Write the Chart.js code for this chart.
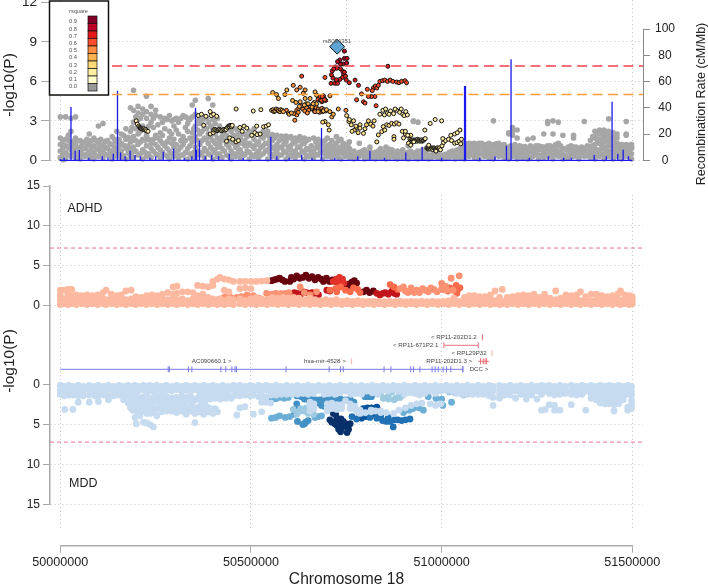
<!DOCTYPE html>
<html><head><meta charset="utf-8">
<script src="https://cdn.jsdelivr.net/npm/chart.js@4"></script>
<style>html,body{margin:0;padding:0;background:#fff;width:708px;height:588px;overflow:hidden}
canvas{position:absolute;left:0;top:0}</style></head><body>
<script>
/* all x values are kb past chromStart; columns are [kb, y, y, ...] */
const chromStart=50000000;
const xTicksBottom=[50000000,50500000,51000000,51500000];
const xTicksTop=[50000000,50750000,51500000];
const yTicksTop=[0,3,6,9,12];
const yTicksRecomb=[0,20,40,60,80,100];
const yTicksAssoc=[0,5,10,15];
const gwasLine=7.17, suggestiveLine=5.0, panelLine=7.2;
const legendLabels=['0.9','0.8','0.7','0.6','0.5','0.4','0.3','0.2','0.1','0.0'];
const legendColors=['#800026','#bd0026','#e31a1c','#fc4e2a','#fd8d3c','#feb24c','#fed976','#ffeda0','#ffffcc','#999999'];
const leadSnp=[726,8.64];
const leadName='rs8034351';

const grayTop=[
[0,.2,.7,1.2,1.7,3.3],[14,.1,.6,1.1,1.6,3.3],[28,.3,.8,1.3,2.2,3.2],[40,.2,.7,1.2,1.7,3.3],[52,.1,.6,1.0,1.5],[64,.3,.9,1.4],[76,.2,.7,1.3,2],
[88,.1,.6,1.1,1.7],[100,.3,.8,1.3,2.6],[112,.2,.7,1.2,2.8],[124,.4,.9,1.5],[136,.1,.6,1.2,1.8],[148,.3,.8,1.4,2.2],[160,.2,.7,1.3,2.0],[172,.1,.9,1.6,2.4],
[184,.3,.8,1.4,2.2,4.0],[192,.2,1,1.8,2.9,3.8,5.33],[204,.4,1.2,2,3.1,3.6,4.1],[216,.1,.8,1.6,2.6,3.5,3.9],[226,.3,1.1,1.9,3.2,3.7,4.87],[238,.2,.9,1.3,2.9,3.5,4.1],[250,.5,1.2,1.9,3.4,3.8],
[262,.2,.8,1.5,2.1,3.3],[274,.4,1.1,2.4,3.2],[286,.1,.7,1.7,2.2,3.4],[298,.3,1,1.6,2.6,3.1],[310,.2,.8,2.0,2.9],[322,.4,1.2,1.8,3.4],[334,.1,.9,2.2,2.8,3.2],[346,.3,1.4,2.1,3.3,4.2],[354,.2,1,1.8,2.6,3.5,4.57],
[366,.4,1.2,2.0,2.8,3.2],[378,.2,.9,1.7,2.5,3.3],[388,.5,1.3,2,2.9,4.7],[400,.1,.8,1.5,2.4,3.1,4.2],[412,.3,1,1.7,2.3,3.2],[424,.2,.9,1.8,2.2],[436,.4,1.2,1.9,2.4],[448,.1,.7,1.4,2.2],[460,.3,1,1.6,2.4],
[472,.2,.8,1.7,2.3],[484,.4,1.1,1.5,2],[496,.1,.6,1.3,2.2],[508,.3,.9,1.6,2.4],[520,.2,.7,1.4,2.0],[532,.5,1.1,1.7,2.2],[544,.1,.8,1.3,1.9,2.2],[556,.3,.9,1.5,1.95],[568,.2,.7,1.2,1.9],[580,.4,1,1.85],
[592,.1,.6,1.4,1.85],[604,.3,.8,1.1,1.8],[616,.2,.7,1.4,1.7],[628,.4,1,1.8],[640,.1,.6,1.3,1.7],[652,.3,.8,1.6],[664,.2,.7,1.7],[676,.4,1,1.2,1.6],[688,.1,.6,1.4,1.3],[700,.3,.8,1.1,1.7],[712,.2,.5,.9,1.5],
[724,.4,.7,1.3,1.8],[736,.1,.6,1.0,1.6],[748,.3,.8,1.2],[758,.2,.5,.9,1.4],[770,.1,.4,.7],[784,.3,.6,1.3],[798,.1,.5,.8],[812,.4,.7,1.0],[826,.1,.3,.6],[840,.2,.5,.9],[854,.1,.4,.7,1.0],[870,.3,.6,.8],[884,.1,.4,.7],[898,.2,.5,.8],
[912,.1,.4,.6,1.1],[926,.3,.5,3.0,2.95],[938,.1,.4,.7,2.9],[950,.2,.5,.8],[966,.1,.4],[980,.3,.5],[1000,.1,.4],[1020,.2,.6,.3],[1035,.1,.3,.7],[1048,.2,.6,.9],[1060,.1,.5,1,1.3],
[1072,.3,.7,1.1,1.3],[1086,.2,.6,1,1.3],[1098,.1,.5,.9,1.3],[1112,.3,.7,1.1,1.2],[1124,.2,.6,1.0,1.3],[1136,.1,.5,.9,1.2,3],[1150,.3,.7,1.1,1.3],[1164,.2,.6,.9,1.2],[1176,.1,.5,.8,2.0,2.1],[1186,.3,.7,1,2.5,1.9,2.2],[1198,.1,.4,.8,2.3,1.7],
[1212,.2,.6,.9,1.0],[1226,.1,.5,.8,1.6],[1240,.3,.6,.9,1.7],[1254,.1,.4,.8,1.1],[1268,.2,.6,1,2],[1278,.3,.7,1.1,2.95,2.8],[1292,.1,.5,.9,3,2],[1306,.3,.6,1.1,1.3,2.9],[1318,.1,.5,.9,1.9],[1332,.2,.7,1.0],[1346,.3,.6,1.0,1.7,1.9],
[1360,.1,.5,.8],[1374,.3,.7,.9,2.95],[1390,.2,.5,.8,1.0,1.5],[1402,.1,.6,.9,2.2,1.7,1.2],[1414,.3,.7,2.3,2,1.6,1.3],[1426,.1,.5,.9,2.3,1.8,1.4],[1438,.3,.6,2.2,1.9,1.5,1.2,3.15],[1450,.1,.5,.9,2.1,1.8,1.5],[1460,.3,.7,1,2,1.7,1.3],[1472,.1,.5,.9,1.2],[1484,.3,.6,1.0,1.2,2.0,1.9,2.95],[1498,.1,.5,.9,1.2,1.0]
];
const grayFill=[
[7,.45,.95,1.45,.05],[21,.4,1,1.5,1.9],[34,.5,1,1.45],[46,.4,.95,1.5],[58,.45,.85,1.3],[70,.5,1.1,1.6],[82,.4,1,1.5],[94,.35,.9,1.5],[106,.55,1.05,1.6],[118,.45,1,1.45],[130,.35,.75,1.25],[142,.5,1,1.6],[154,.45,1.05,1.6],[166,.35,1.15,1.9],[178,.55,1.1,1.75],[188,.6,1.5,2.5],[198,.7,1.5,2.4,3.3],[210,.5,1.4,2.2,3.2],[222,.6,1.5,2.3],[232,.5,1.6,2.6],[244,.7,1.6,2.5,3.2],
[256,.4,1.0,1.7,2.7],[268,.6,1.3,1.9,2.9],[280,.3,.9,1.4,3.1],[292,.5,1.3,2.0,3],[304,.6,1.2,2.3,3.2],[316,.4,1,1.5,3.2],[328,.6,1.5,2.5,3.3],[340,.5,1.1,1.7,3.1],[350,.6,1.7,2.4],[360,.7,1.5,2.3,3],[372,.6,1.5,2.2,3],[384,.7,1.6,2.4,3.2],[394,.4,1,1.8,2.6],[406,.6,1.3,2,2.8],[418,.5,1.2,1.5,2.6],[430,.7,1.5,2.1],[442,.3,1,1.7,2.5],[454,.5,1.3,1.9],[466,.6,1.2,1.9,2.2],
[478,.5,1.3,2],[490,.7,1.1,1.8],[502,.4,1.1,1.9],[514,.5,1.2,2],[526,.4,1,1.8],[538,.7,1.3,2],[550,.5,1.1,1.6],[562,.5,1,1.7],[574,.4,.95,1.5],[586,.7,1.2,1.6],[598,.4,1,1.7],[610,.55,1.3,1.6],[622,.45,1,1.5],[634,.7,1.25,1.6],[646,.35,.9,1.5],[658,.55,1.1],[670,.45,.95,1.4],[682,.7,1.15],[694,.5,.9,1.5],[706,.55,1.2],[718,.5,.8,1.1],[730,.2,.9,1.5],[742,.5,1,1.3],[754,.55,1.1],[764,.3,.6],[778,.2,.5],[792,.4,.7],[806,.2,.6],[820,.2,.5],[834,.35,.7],[848,.3,.6],[862,.2,.5,.85],[877,.2,.5],[891,.3,.6],[906,.25,.55],[919,.25,.7],[932,.15,.6],[944,.3,.55],[958,.25,.6],[973,.2,.4],[990,.2,.45],[1010,.15,.45],[1028,.4,.7],[1042,.35,.8],[1054,.3,.75],
[1066,.4,.8,1.2],[1079,.5,.9,1.25],[1092,.35,.75,1.2],[1105,.5,.9,1.3],[1118,.4,.8,1.2],[1130,.35,.75,1.1],[1143,.5,.9,1.25],[1157,.4,.8,1.1],[1170,.3,.65,1],[1181,.3,.75,1.1],[1192,.5,.9,1.2],[1205,.35,.7,1.1],[1219,.35,.7,1.05],[1233,.2,.7,1.1],[1247,.45,.7,1.1],[1261,.35,.8,1.05],[1273,.45,.9],[1285,.35,.7,1.1],[1299,.45,.8,1.2],[1312,.4,.7,1.1],[1325,.35,.85],[1339,.45,.8,1.1],[1353,.35,.7,1],[1367,.4,.75,1],[1382,.35,.65,1.1],[1396,.4,.8,1.1,1.8],[1408,.4,.8,1.5,2],[1420,.4,.9,1.1,1.6,2],[1432,.4,.8,1,1.6,2.1],[1444,.35,.7,1.1,1.7,2],[1455,.4,.75,1.2,1.8],[1466,.45,.85,1.2],[1478,.35,.75,1.1],[1491,.35,.8,1.15]
];

const ldR1=[[199,3],[202,2.75],[206,2.6],[208,2.5],[210,2.45],[212,2.4],[214,2.4],[216,2.35],[218,2.35],[220,2.4],[222,2.3],[224,2.35],[226,2.25],[230,2.2],[362,3.4],[370,3.5],[376,2.66],[382,3.35],[393,3.7],[396,3.4],[402,3.5],[410,3.35],[393,2.0],[401,2.1],
[402,2.3],[405,2.35],[408,2.3],[411,2.25],[414,2.3],[417,2.35],[420,2.3],[423,2.25],[426,2.3],[429,2.35],[432,2.3],[435,2.35],[438,2.5],[441,2.6],[443,2.55],[445,2.65],[447,2.6],[449,2.55],[451,2.65],
[436,1.45],[444,1.7],[452,1.6],[461,1.4],[467,1.5],[461,3.9],[471,2.5],[477,2.2],[482,2.6],[489,2.45],[506,3.75],[526,3.85],[502,1.9],[510,2.1],[516,1.95],[524,2.0],[515,2.6],[533,2.55],[540,2.6],[546,2.7],
[850,3.45],[858,3.6],[866,3.75],[874,3.55],[882,3.8],[890,3.65],[898,3.5],[906,3.7],[838,3.5],[846,3.8],[853,3.9],[862,3.5],[878,3.9],[894,3.9],[902,3.4],[910,3.45],
[917,1.6],[919,1.5],[921,1.5],[923,1.45],[925,1.55],[927,1.5],[929,1.45],[931,1.55],[933,1.5],[935,1.45],[937,1.6],[939,1.5],[941,1.55],[943,1.45],[945,1.5],[947,1.55],[949,1.45],[951,1.5],[953,1.55],[955,1.6],[957,1.65],[911,1.9],[905,2.2],[900,1.7],[913,1.3],[919,1.15],[927,1.4],[956,2.3],[970,2.8],[983,3.1],[1000,3.0],
[961,.95],[963,.9],[965,.85],[967,.95],[969,.9],[971,.85],[973,.95],[975,.9],[977,.8],[979,.95],[981,.9],[983,.85],[985,.85],[987,.9],[989,.95],[991,.85],[993,.9],[995,.95],[997,.8],[1001,1.1],[1005,1.35],[1010,1.5],[1003,1.65],[985,.7],[966,1.15],[1018,1.6],[1026,1.5],[1034,1.3],[1040,1.35],[1046,1.45],[1050,1.25],[1052,1.6],[1024,1.9],[1034,2.0],[1041,2.1],[1048,2.3]];
const ldR2=[[830,1.4],[834,1.93],[843,2.18],[847,2.56],[851,2.3],[856,2.7],[862,2.65],[869,2.8],[876,2.75],[882,2.85],[888,2.75],[875,1.8],[875,1.6],[897,2.2],[905,2],[913,1.85],[919,1.9],[786,2.7],[786,2.45],[795,2.05],[799,2.4],[751,3.4],[757,2.95],[763,2.7],[769,3.0],[775,2.6],[765,2.2],[758,3.1]];
const ldR3=[[694,2.95],[703,2.7],[705,2.3],[688,2.9],[803,2.7],[808,3.0],[814,2.75],[820,2.6],[823,3.0],[771,2.3],[777,2.5],[781,2.1]];
const ldR4=[[609,4.55],[629,4.45],[642,4.7],[655,4.7],[666,4.4],[645,4.3],[660,4.05],[672,4.3],[554,3.8],[558,3.85],[560,3.7],[563,3.75],[566,3.9],[570,3.85],[572,3.75],[576,3.7],[578,3.85],[582,3.8],[585,3.7],[600,3.5],[606,3.6],[707,3.7],[712,3.3],[716,3.5],[729,3.9],[676,3.7],[690,3.75],[698,3.85],[668,5.2],[672,4.95],[589,5],[594,5.35],[557,5.15],[567,5],[572,4.7],[618,4.4],[627,4.1],[640,4.2],[650,4.3],[663,4.3]];
const ldR5=[[615,3.05],[620,3.45],[611,5.7],[629,5.55],[642,5.35],[637,5.1],[620,5.35],[620,3.8],[625,3.95],[630,4.05],[636,3.9],[641,3.75],[646,4],[651,3.8],[656,4.1],[661,3.9],[666,3.75],[671,4],[676,3.9],[681,3.8],[686,3.95],[691,3.85],[696,3.75],[612,3.55],[624,3.65],[634,4.15],[648,3.6],[749,3.8],[707,4.9],[593,3.8],[598,3.6],[668,3.7],[680,3.65],[688,3.7]];
const ldR6=[[633,6.4],[694,6.3],[821,5.5],[826,5.65],[830,5.5],[834,5.7],[805,5.4],[790,5.05],[825,4.85],[816,4.85],[808,4.85],[777,4.6],[795,4.45],[799,4.35],[828,4.15],[818,5.3],[838,6.0],[845,6.05],[851,6.1],[858,6],[865,6.1],[872,6],[882,5.95],[888,5.9],[895,6],[904,6.05],[908,5.9],[680,4.6],[684,4.8],[688,4.55],[692,4.7],[686,4.45],[678,4.85],[690,4.9],[682,4.7],[686,4.65],[696,4.55],[676,4.65],[683,4.6],[689,4.75],[685,4.55],[681,4.85],[687,4.85],[693,4.6]];
const ldR7=[[725,7],[735,6.95],[741,6.75],[743,6.55],[740,6.3],[733,6.15],[724,6.12],[715,6.25],[711,6.5],[713,6.8],[717,6.95],[745,6.7],[748,6.4],[750,6.1],[758,5.9],[773,6.1],[782,5.7],[710,5.85],[720,5.85],[727,5.85],[859,7.15]];
const ldR8=[[745,8.3],[745,7.75],[752,7.75],[733,7.63],[742,7.33],[727,7.5],[722,7.1],[735,7.3],[751,7.4]];

const recombKb=[0,10,28,39,50,75,110,125,139,150,158,170,183,196,210,235,250,270,297,325,345,354,355,357,365,380,397,415,443,480,552,568,600,633,660,685,720,780,812,850,906,949,1000,1059,1060,1061,1062,1063,1100,1140,1170,1182,1230,1280,1320,1340,1400,1432,1447,1462,1476,1490];
const recombRate=[1,2,40.6,7.3,7.8,2,3,2,5,53,6,3,7.3,4,3,2,3,6.5,9,2,3,12,40,8,15,3,4,3,5,2,18,3,2,4,2,24.6,2,3,7,2,6,10.3,2,56.5,56.5,56.5,56.5,56.5,2,3,11,77,2,3,2,2,4,3,44.6,5,8,3];

const adhdPale=[
[0,.1,.7,1.2,1.9],[10,.2,.8,1.9],[20,.1,.7,1.3,2],[30,.2,.8,1.2,2],[42,.1,.7,1.3],[56,.2,.8,1.2],[70,.1,.6,1.3],[84,.2,.8,1.2],[98,.1,.7,1.3],[112,.2,.8,1.6],[120,.1,.7,1.9],[134,.2,.8,1.4],[148,.1,.6,1.2],[160,.2,.8,1.3],[172,.1,.7,1.8],[186,.2,.8,1.9],
[198,.1,.7,1.1],[212,.2,.8,1],[226,.1,.6,1.2],[240,.2,.8,1.3],[254,.1,.7,1.2],[268,.2,.8,1.4],[282,.1,.7,1.6],[296,.2,.8,1.4,2.3],[306,.1,.7,1.5,2.4],[320,.2,.8,1.7],[334,.1,.6,1.7],[348,.2,.8,1.6],[360,.1,.7,1.2,2.5],[374,.2,.8,1.4,2.4],[388,.1,.6,1,2.3],[400,.2,.8,3.0,2.5],
[412,.1,.7,3.3],[419,.2,.8,3.5],[430,.1,.6,3.3,1.9],[442,.2,.8,3.2,1.7],[454,.1,.7,3],[471,.2,.8,3,2.1],[485,.1,.6,3,2.2],[500,.2,.8,3,2.1],[514,.1,.7,3,1.0],[528,.2,.8,3.05],[542,.1,.7,3.1],[556,.2,.8,1],[570,.1,.6,.9],[584,.2,.8,1],[598,.1,.6,.9],[612,.2,.7,1.0],
[626,.1,.6,.9],[640,.2,.7],[654,.1,.6,.9],[668,.2,.7],[682,.1,.6],[696,.2,.7],[710,.1,.6],[724,.2,.7],[738,.1,.5],[752,.2,.6],[766,.1,.5],[780,.2,.6],[794,.1,.5],[808,.2,.5],[822,.1,.5],[836,.2,.5],[850,.1,.45],[864,.2,.5],[878,.1,.45],[892,.2,.5],[906,.1,.45],[920,.2,.5],[934,.1,.45],[948,.2,.5],[962,.1,.45],[976,.2,.5],[990,.1,.45],[1004,.2,.5],[1018,.1,.55],[1032,.2,.5,.9],[1046,.1,.5],[1060,.2,.7,1],
[1072,.1,.6,1.2],[1086,.2,.7,1.2],[1100,.1,.6,1.1],[1114,.2,.7,1.1],[1128,.1,.7,1.3],[1140,.2,.6,1.8],[1152,.1,.7,1],[1159,.2,.5,2.0],[1172,.1,.6,1],[1186,.2,.7,1.1],[1200,.1,.6,1.2],[1214,.2,.7,1.3],[1228,.1,.6,1.2],[1242,.2,.7,1.4],[1256,.1,.6,1],[1270,.2,.7,1.4],[1284,.1,.6,.9],[1299,.2,.7,1.8],[1312,.1,.6,.9],[1326,.2,.7,1.3],[1340,.1,.6,1.2],[1354,.2,.7,1.3],[1364,.1,.6,1.7],[1378,.2,.7,1.1],[1392,.1,.6,1.4],[1406,.2,.7,1.4],[1420,.1,.6,1.2],[1434,.2,.7,1.1],[1448,.1,.6,1.2],[1462,.2,.7,1.4],[1469,.1,.6,1.8],[1480,.2,.7,1.3],[1492,.1,.6,1.2],[1500,.2,.7,1.1]
];
const adhdSalmon=[[395,.4],[427,.9],[433,1.1],[440,.8],[447,1],[454,.7],[463,1],[475,1.1],[490,1.3],[506,1.2],[520,.9],[541,1.5],[554,1.4],[565,1.5],[578,1.45],[590,1.5],[600,1.6],[629,2.3],[640,1.6],[655,1.3],[672,1.7],[891,2.1],[905,1.8],[920,2.2],[935,1.9],[950,2.1],[965,1.7],[980,2.0],[900,2.3],[912,1.6],[928,1.6],[942,1.6],[958,1.9],[972,2.2],[988,1.7],[1000,2.1],[1000,2.75],[1014,1.9],[1025,3.4],[1046,3.7],[1030,1.9],[1010,2.4]];
const adhdOrange=[[707,1.9],[722,2.1],[735,2.3],[748,1.9],[760,1.7],[769,2.2],[780,2.0],[786,1.6],[725,1.7],[865,2.6],[875,2.3],[885,2],[1002,2.0],[1016,1.8],[1032,1.9],[1042,2.0],[1048,2.2],[1038,2.5],[1040,1.5],[1022,2.2]];
const adhdRedOrange=[[716,3.0],[724,3.3],[732,3.5],[740,3.3],[744,2.8],[728,2.9]];
const adhdRed=[[607,1.3],[614,1.6],[622,1.5],[630,1.3],[638,1.7],[646,1.6],[654,1.4],[660,1.6],[668,1.2],[677,1.3],[699,1.9],[707,1.8],[830,1.5],[838,1.3],[846,1.5],[852,1.6],[860,1.4],[868,1.7],[876,1.5],[882,1.4],[872,1.9]];
const adhdMaroon=[[554,3.1],[561,3.2],[568,3.3],[575,3.4],[582,3.2],[589,3],[602,3.0],[606,3.5],[612,3.3],[620,3.7],[628,3.4],[636,3.5],[644,3.8],[652,3.4],[660,3.6],[668,3.2],[676,3.5],[684,3.3],[690,3],[698,3.4],[706,3],[714,3.2],[722,3.0],[751,2.4],[758,2.7],[765,2.9],[771,3.1],[777,2.8],[760,2.5],[795,1.7],[803,1.9],[811,1.6],[821,1.8]];

const geneLabels=['AC090660.1 >','hsa-mir-4528 >','< RP11-202D1.2','< RP11-671P2.1','< RPL29P32','RP11-202D1.3 >','DCC >'];
const geneLabelKb=[397,694,1032,932,1072,1020,1098];
const geneLabelRow=[1,1,4,3,2,1,0];
const dccLine=[0,1056];
const dccExons=[283,286,336,345,421,434,450,458,462,592,705,735,742,849,867,919,926,943,975,983,991,1004,1013,1024,1055,1056];
const rp671Line=[1006,1096];
const rp2013Line=[1096,1124];
const rp2013Exons=[1102,1109,1114,1118];
const strongTicks=[[1107,4],[1006,3],[1096,3]];
const lightTicks=[[764,1],[1132,2]];

const mddPale=[
[0,.1,.7,1.2],[10,.2,.8,1.4],[12,3.1],[22,.1,.6,1.3],[33,.2,.8,1.3,3.1],[47,.1,.7,1.4,2.2],[60,.2,.8,1.4],[76,.1,.6,1.3,2.2],[90,.2,.8,1.4],[100,.1,.7,1.4,2.1],[114,.2,.8,1.3],[126,.1,.6,1.4,1.9],[140,.2,.8,1.4],[154,.1,.7,1.3],[166,.2,.8,1.4,1.9],[178,.1,.6,1.4,2.3],[190,.2,.8,1.4,2.6,3.2],[196,.1,.7,1.5,4.1],[199,4.9],[204,.2,.8,1.6,2.7,3.5],[209,3.9],[218,.1,.6,1.5,2.2,3,4.7],[227,.2,.8,1.4,3.6,4.8],[235,.1,.7,1.8,2.4,3.6,5.0],[244,.2,.8,1.6,3.1,5.3],[253,.1,.6,1.4,3.9],[266,.2,.8,1.5,2.4,3.4],[278,.1,.7,1.5,3.3],[292,.2,.8,1.7,3.3,2.8],[305,.1,.6,1.6,2.5,3.5],[318,.2,.8,1.5,2.2,3.3],[330,.1,.7,1.6,3.5,3.7],[342,.2,.8,1.5,2.6,3.3],[353,.1,.6,1.8,4.75,3.6],[364,.2,.8,1.5,2.8,3.4],[376,.1,.7,1.4,3.2,3.7],[388,.2,.8,1.5,3.4,2.9],[400,.1,.6,1.4,3.6],[412,.2,.8,1.4,3.4],[426,.1,.7,1.3],[440,.2,.8,1.4],[454,.1,.6,1.4],[463,.2,.8,1.3,3.8],[471,.1,.7,1.4,2.9],[484,.2,.8,1.3,2.75],[498,.1,.6,1.4],[506,.2,.8,1.3,3.7],[520,.1,.7,1.5],[528,.2,.8,1.5,3.4,2.2],[540,.1,.6,1.5,2.2],[552,.2,.8,1.3,2.3],[566,.1,.7,1.3],[580,.2,.8,1.2],[594,.1,.6,1.2],[608,.2,.8,1.2],[622,.1,.7,1.2],[636,.2,.8,1.1],[650,.1,.6,1.2],[664,.2,.8,1.1],[678,.1,.7],[692,.2,.8,1.2],[706,.1,.6,1.1],[720,.2,.8,1.2],[734,.1,.7,1.0],[748,.2,.8,2.0],[762,.1,.6,1.2],[772,2.7,3.0],[776,.2,.8,1.1,3.3],[786,3.6,3.2],[790,.1,.7,1.2],[800,3.5],[804,.2,.8],[818,.1,.6,1],[832,.2,.8,1.2],[846,.1,.7],[860,.2,.8],[874,.1,.6,3.6],[888,.2,.8,3.2],[902,.1,.7,1.2],[916,.2,.8,1],[930,.1,.6,1.1],[942,.2,.8,1.3],[956,.1,.7,1.1],[970,.2,.8,2.4],[984,.1,.6,1.1,2.6],[998,.2,.8,2.4],[1012,.1,.7],[1026,.2,.8],[1040,.1,.6,1.1],[1054,.2,.8,1.2],[1068,.1,.7,1.2],[1082,.2,.8,1.2],[1096,.1,.6,1.2],[1110,.2,.8,1.2],[1124,.1,.7,1.4],[1135,.2,.8,1.6,2.6],[1152,.1,.6,1.2,1.7],[1166,.2,.8,1.3],[1180,.1,.7,1.3],[1194,.2,.8,1.7],[1208,.1,.6,1.2],[1222,.2,.8,1.2,1.8],[1236,.1,.7,1.3],[1250,.2,.8,1.8],[1262,.1,.6,1.2,3.2],[1272,.2,.8,3.1],[1282,.1,.7,1.1,2.5],[1296,.2,.8,1.3,3.2,2.6],[1310,.1,.6,1.2,3.2],[1324,.2,.8,1.1],[1340,.1,.7,1.2,2.5],[1354,.2,.8,1.3],[1368,.1,.6,1.2],[1378,.2,.8,3.2],[1392,.1,.7,1.2,1.7],[1406,.2,.8,1.4,1.9],[1416,.1,.6,1.2,1.9,2.3],[1428,.2,.8,1.4,2.0,2.4],[1440,.1,.7,1.3,1.8,2.4],[1452,.2,.8,1.5,2.1,2.5,3.3],[1464,.1,.6,1.3,2,2.4],[1476,.2,.8,1.4,1.9],[1488,.1,.7,1.2,3.2,2.8],[1498,.2,.8,1.3,2.5,2.0,3.0]
];
const mddPaleFill=[[184,2,2.9],[198,2.2,3],[212,2,2.6,3.4],[222,1.9,2.7],[232,2.1,3],[240,1.9,2.7,3.5],[250,2.2,3.1],[260,1.9,2.9],[272,2.1,2.9],[284,1.9,2.5],[298,2.2,3.1],[312,1.9,2.8],[324,2.4,3],[336,2,3],[348,2.2,2.9],[358,1.8,3],[370,2.2,2.9],[382,1.9,2.7],[394,1.8,3],[406,1.7,3],[420,1.8],[434,1.7],[448,1.7],[655,2.2,2.7,3.3],[665,2.4,3],[700,2.4,2.9,3.3],[712,2.3,3],[725,2.5,3.1],[738,2.5,3],[760,2.4,3],[815,3.2,3.4],[826,3.3],[840,3.3,3.5],[855,3.5],[905,2.9],[920,2.6],[935,2.4],[948,2.3]];
const mddMid=[[611,3.1],[620,3.7],[630,3],[640,3.3],[650,3.6],[660,3],[664,3.7],[625,3.4],[645,2.9],[830,.6],[840,1],[850,.4],[860,1.4],[870,.9],[880,1.7],[890,1.1],[900,.5],[908,.9],[847,1.7],[860,1.8],[875,1.9],[891,1.6],[898,1.3],[1004,.4],[1015,.5],[1025,.4],[1035,1],[1045,.8],[1057,.5],[1057,1.3],[1020,.9],[885,.3],[1040,.5]];
const mddLight=[[554,1.7],[565,1.75],[575,1.6],[587,1.7],[598,1.6],[554,4.2],[565,4.1],[575,3.9],[590,4.1],[602,4],[668,4.1],[677,4],[685,3.9],[900,3.5],[915,3.2],[925,3.0],[940,2.9],[952,3.2],[965,1.5],[985,1.7],[1000,1.8],[1026,2.2],[1003,2.6]];
const mddMidBlue=[[620,1.4],[625,1.1],[632,1.5],[640,1.8],[650,1.9],[660,1.8],[670,1.9],[680,1.9],[690,1.8],[700,1.9],[710,1.8],[722,1.9],[735,1.8],[748,1.9],[760,1.8],[677,2.3],[685,2.6],[692,2.7],[699,2.3],[688,2.1],[620,2.4],[614,3.7],[622,4.6],[636,5],[644,4.7],[650,4.5],[799,1.5],[808,1.5],[816,1.5],[770,2.2]];
const mddBlue=[[622,2.9],[630,3.2],[640,4.9],[830,4.2],[845,4.5],[855,4.6],[865,4.6],[873,5.3],[885,4.4],[895,4.5],[905,4.4],[917,4.3],[860,4.1],[877,4.4],[840,4.0],[812,4.1],[798,3.6],[777,4.3],[765,4.0]];
const mddDeep=[[785,3.5],[795,3.0],[805,2.9],[816,2.9],[830,2.8],[802,4.0],[790,4.2],[818,3.7],[826,3.6],[832,3.1]];
const mddNavy=[[707,4.4],[716,3.6],[722,3.7],[725,4.2],[712,4.7],[730,4.7],[736,4.3],[742,4.6],[748,4.9],[725,5.1],[730,5.6],[735,5.9],[738,5.4],[752,5.1],[756,5.6],[752,6],[742,5.2],[720,4.9],[760,4.9]];

/* page layout of the overlaid panels */
const L=50,R=643,ppk=0.38133;
const xLo=chromStart+((L-60.3)/ppk)*1000, xHi=chromStart+((R-60.3)/ppk)*1000;
const bp=k=>chromStart+k*1000;
const fromCols=c=>c.flatMap(r=>r.slice(1).map(y=>({x:bp(r[0]),y})));
const fromPairs=p=>p.map(a=>({x:bp(a[0]),y:a[1]}));
const FONT='"Liberation Sans",Arial,sans-serif';
const GRID='#c4c4c4',AXIS='#a9a9a9',TXT='#222';

function hline(v,color,dash,w){return {type:'line',data:[{x:xLo,y:v},{x:xHi,y:v}],borderColor:color,borderDash:dash,borderWidth:w,pointRadius:0,clip:false,order:0}}
function dots(pts,fill,r,border){return {type:'scatter',data:pts,backgroundColor:fill,borderColor:border||fill,borderWidth:border?1:0,pointRadius:r,pointHoverRadius:r,clip:false}}
function xScale(ticks,opt){return Object.assign({type:'linear',min:xLo,max:xHi,afterFit:s=>{s.height=0},afterBuildTicks:s=>{s.ticks=ticks.map(v=>({value:v}))},
  ticks:{display:false},grid:{display:ticks.length>0,color:GRID,drawTicks:false},border:{display:false,dash:[1,3]}},opt||{})}
function hiddenY(min,max,opt){return Object.assign({type:'linear',min,max,display:false},opt||{})}
function leftY(min,max,ticks,o){o=o||{};return {type:'linear',position:'left',min,max,reverse:!!o.reverse,afterFit:s=>{s.width=L;s.paddingTop=0;s.paddingBottom=0},afterBuildTicks:s=>{s.ticks=ticks.map(v=>({value:v}))},
  ticks:{color:TXT,font:{family:FONT,size:o.size||12},padding:o.pad||3,callback:v=>String(v),autoSkip:false},
  grid:{color:c=>(o.skip&&o.skip.includes(c.tick&&c.tick.value))?'rgba(0,0,0,0)':GRID,tickColor:AXIS,tickLength:o.tick||7,tickBorderDash:[],lineWidth:1},
  border:{display:true,color:AXIS,width:1.5,dash:[1,3]}}}

function panel(top,bottom,scales,datasets,plugins,left,right){
  const cv=document.createElement('canvas');cv.width=708;cv.height=588;document.body.appendChild(cv);
  return new Chart(cv,{type:'scatter',data:{datasets},plugins:plugins||[],options:{responsive:false,animation:false,devicePixelRatio:1,
    events:[],layout:{autoPadding:false,padding:{left:left===undefined?L:left,right:708-(right===undefined?R:right),top,bottom:588-bottom}},
    plugins:{legend:{display:false},title:{display:false},tooltip:{enabled:false}},scales}});
}
function textPlugin(items){return {id:'t'+Math.random(),afterDatasetsDraw(ch){const c=ch.ctx;items.forEach(it=>{c.save();c.fillStyle=it.color||TXT;c.font=(it.size||12)+'px '+FONT;
  c.textAlign=it.align||'center';c.textBaseline='middle';c.translate(it.x,it.y);if(it.rot)c.rotate(it.rot);c.fillText(it.s,0,0);c.restore();});}}}

/* top panel: vertical grid */
panel(0,168,{x:xScale(xTicksTop),y:hiddenY(0,1)},[]);
/* top panel: grey SNPs and left axis */
panel(2.5,160.3,{x:xScale([]),y:leftY(0,12,yTicksTop,{size:13.5,tick:9,pad:4,skip:[12]})},[dots(fromCols(grayTop).concat(fromCols(grayFill)),'#a6a6a6',2.8)],[],0);
/* recombination rate and right axis */
panel(29,160.3,{x:xScale([]),y:{type:'linear',position:'right',min:0,max:100,afterFit:s=>{s.width=708-R;s.paddingTop=0;s.paddingBottom=0},afterBuildTicks:s=>{s.ticks=yTicksRecomb.map(v=>({value:v}))},
  ticks:{color:TXT,font:{family:FONT,size:12},padding:5,crossAlign:'center',callback:v=>String(v)},
  grid:{drawOnChartArea:false,tickColor:'#8a8a8a',tickLength:7},border:{display:true,color:'#8a8a8a',width:1}}},
  [{type:'line',data:recombKb.flatMap((k,i)=>[{x:bp(k-.01),y:0},{x:bp(k),y:recombRate[i]},{x:bp(k+.01),y:0}]).concat([{x:bp(1500),y:0}]),borderColor:'#1a1aee',borderWidth:1.3,pointRadius:0,clip:false,tension:0}],[],L,708);
/* top panel: coloured SNPs, thresholds, key */
const keyPlugin={id:'key',afterDatasetsDraw(ch){const c=ch.ctx;c.save();c.fillStyle='#fff';c.strokeStyle='#111';c.lineWidth=1.5;c.fillRect(49.5,1,59,94);c.strokeRect(49.5,1,59,94);
  c.font='5.6px '+FONT;c.fillStyle='#555';c.textAlign='center';c.textBaseline='middle';c.fillText('rsquare',78.5,11.5);
  const h=7.5;legendColors.forEach((col,i)=>{c.fillStyle=col;c.fillRect(88,16+i*h,9,h);c.strokeStyle='#111';c.lineWidth=.7;c.strokeRect(88,16+i*h,9,h);
  c.fillStyle='#555';c.font='5.8px '+FONT;c.fillText(legendLabels[i],73,21.8+i*7.2);});c.restore();}};
panel(2.5,160.3,{x:xScale([]),y:hiddenY(0,12)},[
  hline(gwasLine,'#f5424b',[10,5.5],1.6),hline(suggestiveLine,'#f9a03c',[10,5.5],1.6),
  dots(fromPairs(ldR1),'#ffeea8',2,'#111'),dots(fromPairs(ldR2),'#fee08b',2,'#111'),dots(fromPairs(ldR3),'#fed976',2,'#111'),dots(fromPairs(ldR4),'#feb24c',2,'#111'),dots(fromPairs(ldR5),'#fd8d3c',2,'#111'),dots(fromPairs(ldR6),'#fc4e2a',2,'#111'),dots(fromPairs(ldR7),'#e31a1c',2,'#111'),dots(fromPairs(ldR8),'#bd0026',2,'#111'),
  {type:'scatter',data:fromPairs([leadSnp]),pointStyle:'rectRot',pointRadius:7.5,backgroundColor:'#5fa5d3',borderColor:'#111',borderWidth:1,clip:false},
  {type:'scatter',data:fromPairs([leadSnp]),pointRadius:2.2,backgroundColor:'#111',borderWidth:0,clip:false}
],[keyPlugin,textPlugin([{s:leadName,x:337,y:41,size:6,color:'#555'}])]);

/* lower part: vertical grid */
panel(195,527.7,{x:xScale(xTicksBottom),y:hiddenY(0,1)},[]);
/* ADHD */
panel(186,305.3,{x:xScale([]),y:leftY(0,15,yTicksAssoc,{skip:[15]})},[
  dots(fromCols(adhdPale),'#fcb9a0',3.4),dots(fromPairs(adhdSalmon),'#fc9272',3.4),dots(fromPairs(adhdOrange),'#fb6a4a',3.4),dots(fromPairs(adhdRedOrange),'#e2322a',3.4),dots(fromPairs(adhdRed),'#c3141b',3.4),dots(fromPairs(adhdMaroon),'#67000d',3.4),
  hline(panelLine,'#e8709f',[4,3],1)],[textPlugin([{s:'ADHD',x:67.5,y:208.7,size:12.3,align:'left'}])],0);
/* gene track */
const geneRowTop=8, geneRowBottom=-1.925;
const rowPts=a=>a.map(k=>({x:bp(k),y:0}));
const geneText={id:'geneText',afterDatasetsDraw(ch){const c=ch.ctx,xs=ch.scales.x,ys=ch.scales.y;c.save();c.font='6.2px '+FONT;c.fillStyle='#444';c.textAlign='center';c.textBaseline='middle';
  geneLabels.forEach((s,i)=>c.fillText(s,xs.getPixelForValue(bp(geneLabelKb[i])),ys.getPixelForValue(geneLabelRow[i])));c.restore();}};
const tick=(pts,color,r)=>({type:'scatter',data:pts,pointStyle:'line',rotation:90,pointRadius:r,borderColor:color,borderWidth:1,clip:false});
const seg=(arr,row,color)=>({type:'line',data:arr.map(k=>({x:bp(k),y:row})),borderColor:color,borderWidth:1,pointRadius:0,clip:false});
panel(305.3,384.7,{x:xScale([]),y:{type:'linear',position:'left',min:geneRowBottom,max:geneRowTop,afterFit:s=>{s.width=L},afterBuildTicks:s=>{s.ticks=[]},ticks:{display:false},grid:{display:false},border:{display:true,color:AXIS,width:1.5}}},[
  seg(dccLine,0,'#7a7ae8'),tick(rowPts(dccExons),'#7a7ae8',3),
  seg(rp671Line,3,'#e8707a'),seg(rp2013Line,1,'#e8707a'),
  tick(rp2013Exons.map(k=>({x:bp(k),y:1})),'#e8707a',3),tick(fromPairs(strongTicks),'#e8707a',3),tick(fromPairs(lightTicks),'#f4b0b0',3)
],[geneText],0);
/* MDD */
panel(384.7,504.3,{x:xScale([]),y:leftY(0,15,yTicksAssoc,{reverse:true,skip:[0]})},[
  dots(fromCols(mddPale).concat(fromCols(mddPaleFill)),'#c6dbef',3.4),dots(fromPairs(mddMid),'#9ecae1',3.4),dots(fromPairs(mddLight),'#6baed6',3.4),dots(fromPairs(mddMidBlue),'#4292c6',3.4),dots(fromPairs(mddBlue),'#2171b5',3.4),dots(fromPairs(mddDeep),'#08519c',3.4),dots(fromPairs(mddNavy),'#08306b',3.4),
  hline(panelLine,'#e8709f',[4,3],1)],[textPlugin([{s:'MDD',x:69,y:484,size:12.5,align:'left'}])],0);
/* shared position axis and outer titles */
panel(545,588,{x:{type:'linear',min:50000000,max:51500000,afterBuildTicks:s=>{s.ticks=xTicksBottom.map(v=>({value:v}))},afterFit:s=>{s.height=588-545.7},
    ticks:{color:TXT,font:{family:FONT,size:12.6},maxRotation:0,autoSkip:false,padding:2,callback:v=>String(v)},grid:{drawOnChartArea:false,color:AXIS,tickColor:AXIS,tickLength:7},border:{display:true,color:AXIS,width:1.5}},
  y:hiddenY(0,1)},[],[textPlugin([
  {s:'Chromosome 18',x:346.5,y:580,size:15.6},
  {s:'-log10(P)',x:10,y:85,size:15.5,rot:-Math.PI/2},
  {s:'-log10(P)',x:10,y:361,size:15.5,rot:-Math.PI/2},
  {s:'Recombination Rate (cM/Mb)',x:701.5,y:104,size:12.5,rot:-Math.PI/2}
])],60.3,632.3);
</script>
</body></html>
